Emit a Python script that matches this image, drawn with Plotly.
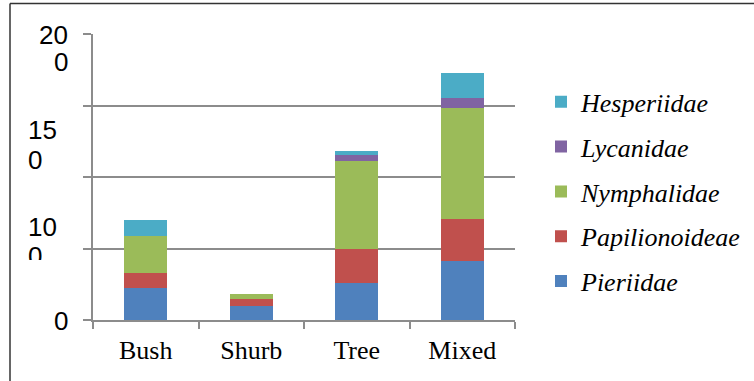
import plotly.graph_objects as go

categories = ["Bush", "Shurb", "Tree", "Mixed"]
pieriidae = [22.5, 10, 26, 41]
papilionoideae = [10.5, 4.5, 23.5, 29.5]
nymphalidae = [26, 4, 61.5, 77.5]
lycanidae = [0, 0, 4.5, 7.5]
hesperiidae = [11, 0, 2.5, 17]

series = [
    ("Pieriidae", pieriidae, "#4F81BD"),
    ("Papilionoideae", papilionoideae, "#C0504D"),
    ("Nymphalidae", nymphalidae, "#9BBB59"),
    ("Lycanidae", lycanidae, "#8064A2"),
    ("Hesperiidae", hesperiidae, "#4BACC6"),
]

# y tick labels as drawn (wrapped / offset in the original)
ytick_lines = ["20", "0", "15", "0", "10", "0", "0"]

W, H = 754, 381
L, R, T, B = 93, 515, 33.5, 320

SERIF = "Liberation Serif, Times New Roman, Times, serif"
SANS = "Liberation Sans, Arial, sans-serif"


def px(x):
    return (x - L) / (R - L)


def py(y):
    return (B - y) / (B - T)


fig = go.Figure()
n = len(series)
for i, (name, vals, col) in enumerate(series):
    fig.add_trace(go.Bar(
        x=categories, y=vals, name=name, marker=dict(color=col, line=dict(width=0)),
        legendgroup=name, legendrank=n - i,
    ))

grid = "#8c8c8c"
fig.update_layout(
    width=W, height=H,
    margin=dict(l=L, r=W - R, t=T, b=H - B, pad=0, autoexpand=False),
    paper_bgcolor="white", plot_bgcolor="white",
    barmode="stack", bargap=0.59,
    showlegend=True,
    legend=dict(
        x=px(541), y=py(78), xanchor="left", yanchor="top",
        traceorder="grouped", tracegroupgap=8,
        font=dict(family=SERIF, size=26, color="black", style="italic"),
        bgcolor="rgba(0,0,0,0)",
    ),
    xaxis=dict(
        showline=True, linecolor=grid, linewidth=2,
        ticks="outside", tickson="boundaries", ticklen=7, tickwidth=2, tickcolor=grid,
        tickfont=dict(family=SERIF, size=26, color="black"),
        ticklabelstandoff=6,
        showgrid=False,
    ),
    yaxis=dict(
        range=[0, 200], tickvals=[0, 50, 100, 150, 200],
        showticklabels=False,
        showline=True, linecolor=grid, linewidth=2,
        ticks="outside", ticklen=8, tickwidth=2, tickcolor=grid,
        showgrid=True, gridcolor=grid, gridwidth=2,
        zeroline=False,
    ),
)

fnt = dict(family=SANS, size=26, color="black")
# (text, x_px, anchor, y_px)
label_pos = [
    (ytick_lines[0], 70, "right", 35),
    (ytick_lines[1], 70, "right", 62),
    (ytick_lines[2], 26, "left", 130),
    (ytick_lines[3], 26, "left", 160),
    (ytick_lines[4], 26, "left", 227),
    (ytick_lines[6], 70, "right", 321),
]
for txt, xp, anc, yp in label_pos:
    fig.add_annotation(text=txt, xref="paper", yref="paper", x=px(xp), y=py(yp),
                       xanchor=anc, yanchor="middle", showarrow=False, font=fnt)
# clipped "0" under "10"
fig.add_annotation(text=ytick_lines[5], xref="paper", yref="paper", x=px(26), y=py(239),
                   xanchor="left", yanchor="top", valign="top", height=19,
                   showarrow=False, font=fnt)

# outer frame (left and top edges visible)
fig.add_shape(type="line", xref="paper", yref="paper", x0=px(10), x1=px(10),
              y0=py(3), y1=py(381), line=dict(color="#333333", width=1.5))
fig.add_shape(type="line", xref="paper", yref="paper", x0=px(10), x1=px(754),
              y0=py(3), y1=py(3), line=dict(color="#333333", width=1.5))

fig.write_html("out.html", config={"displayModeBar": False},
               post_script="document.body.style.margin='0';document.body.style.overflow='hidden';")
